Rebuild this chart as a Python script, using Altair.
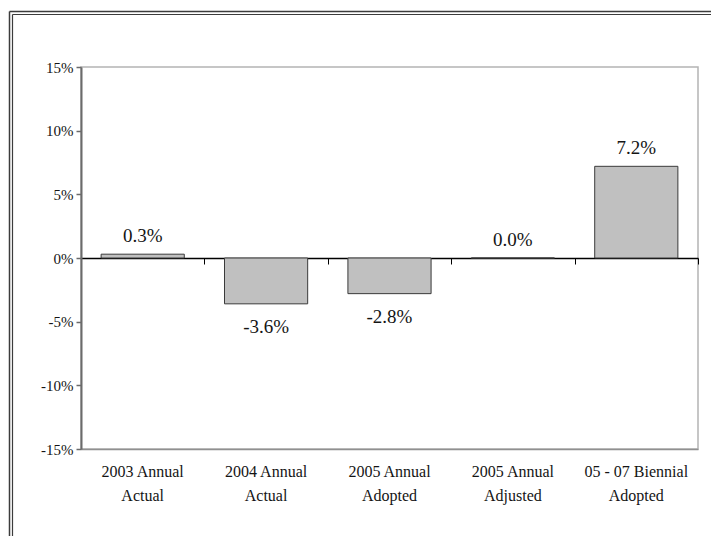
import altair as alt
import pandas as pd

categories = ["2003 Annual|Actual", "2004 Annual|Actual", "2005 Annual|Adopted",
              "2005 Annual|Adjusted", "05 - 07 Biennial|Adopted"]
values = [0.3, -3.6, -2.8, 0.0, 7.2]
value_labels = ["0.3%", "-3.6%", "-2.8%", "0.0%", "7.2%"]
y_ticks = [-15, -10, -5, 0, 5, 10, 15]

df = pd.DataFrame({"cat": categories, "v": values, "lab": value_labels})

FONT = "'Liberation Serif', 'Times New Roman', Times, serif"
TXT = "#141414"

yenc = alt.Y("v:Q", scale=alt.Scale(domain=[-15, 15], nice=False, zero=False),
             axis=alt.Axis(values=y_ticks, labelExpr="datum.value + '%'", title=None,
                           grid=False, domainColor="#6b6b6b", domainWidth=2,
                           tickColor="#6b6b6b", tickWidth=1.5, tickSize=5,
                           labelFont=FONT, labelFontSize=15, labelColor=TXT,
                           labelPadding=3))
xscale = alt.Scale(paddingInner=0, paddingOuter=0)

base = alt.Chart(df).encode(
    x=alt.X("cat:N", sort=None, scale=xscale, axis=None),
    y=yenc,
)

bars = base.mark_bar(width=alt.RelativeBandSize(0.674), fill="#c0c0c0",
                     stroke="#3a3a3a", strokeWidth=1).encode(
    x=alt.X("cat:N", sort=None, scale=xscale,
            axis=alt.Axis(orient="bottom", title=None, ticks=False, domain=True,
                          domainColor="#909090", domainWidth=1.5,
                          labelExpr="split(datum.label, '|')", labelAngle=0,
                          labelFont=FONT, labelFontSize=16, labelLineHeight=24,
                          labelColor=TXT, labelPadding=14, labelBaseline="top"))
)

zero_axis = base.mark_text(dy=-12, baseline="alphabetic", font=FONT, fontSize=19,
                           color=TXT).encode(
    x=alt.X("cat:N", sort=None, scale=xscale,
            axis=alt.Axis(orient="bottom", title=None, labels=False, offset=-191,
                          tickBand="extent", domainColor="#000000", domainWidth=1.5,
                          tickColor="#000000", tickWidth=1, tickSize=6)),
    text="lab:N",
).transform_filter("datum.v >= 0")

neg_text = base.mark_text(dy=29, baseline="alphabetic", font=FONT, fontSize=19,
                          color=TXT).encode(text="lab:N").transform_filter("datum.v < 0")

frame_df = pd.DataFrame({"a": [0]})
fr = alt.Chart(frame_df)
frame = [
    fr.mark_rule(color="#3c3c3c", strokeWidth=1.5).encode(x=alt.value(-71.5), y=alt.value(-55.5), y2=alt.value(700)),
    fr.mark_rule(color="#3c3c3c", strokeWidth=1.2).encode(x=alt.value(-68.5), y=alt.value(-52.5), y2=alt.value(700)),
    fr.mark_rule(color="#3c3c3c", strokeWidth=1.5).encode(x=alt.value(-71.5), x2=alt.value(800), y=alt.value(-55.5)),
    fr.mark_rule(color="#3c3c3c", strokeWidth=1.2).encode(x=alt.value(-68.5), x2=alt.value(800), y=alt.value(-52.5)),
]

chart = alt.layer(bars, zero_axis, neg_text, *frame).resolve_axis(x="independent").properties(
    width=617, height=382,
    autosize=alt.AutoSizeParams(type="none"),
    padding={"left": 73, "top": 59, "right": 13, "bottom": 87},
    background="white",
).configure_view(stroke="#b4b4b4", strokeWidth=1.5)

chart.save("out.html", embed_options={"renderer": "svg", "actions": False})
